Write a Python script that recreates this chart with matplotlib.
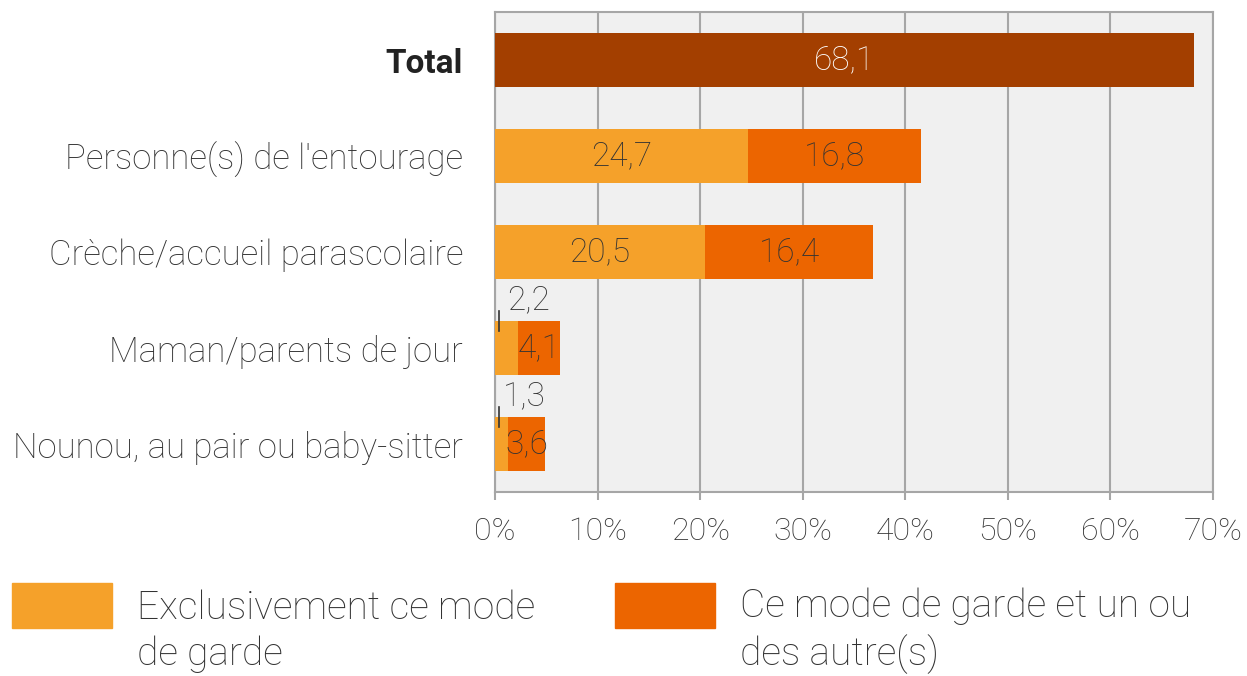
import matplotlib.pyplot as plt
from matplotlib.patches import Rectangle
from matplotlib.ticker import FuncFormatter

plt.rcParams['font.family'] = ['Roboto', 'DejaVu Sans']

categories = ['Total', "Personne(s) de l'entourage", 'Crèche/accueil parascolaire',
              'Maman/parents de jour', 'Nounou, au pair ou baby-sitter']
total = 68.1
exclusive = [None, 24.7, 20.5, 2.2, 1.3]
combined = [None, 16.8, 16.4, 4.1, 3.6]
legend_labels = ['Exclusivement ce mode\nde garde', 'Ce mode de garde et un ou\ndes autre(s)']

c_total = '#A33F00'
c_excl = '#F5A12A'
c_comb = '#EC6500'
txt = '#333333'
fs = 24

fig = plt.figure(figsize=(12.47, 6.76), dpi=100)
ax = fig.add_axes([495 / 1247, 1 - 492 / 676, (1213 - 495) / 1247, 480 / 676])
ax.set_facecolor('#F0F0F0')

h = 0.56
ax.barh(0, total, height=h, color=c_total, zorder=3)
ax.text(total / 2, 0, f'{total:.1f}'.replace('.', ','), ha='center', va='center',
        color='white', fontsize=fs, fontweight='light', zorder=4)

for i in range(1, len(categories)):
    e, c = exclusive[i], combined[i]
    ax.barh(i, e, height=h, color=c_excl, zorder=3)
    ax.barh(i, c, left=e, height=h, color=c_comb, zorder=3)
    if e >= 5:
        ax.text(e / 2, i, f'{e:.1f}'.replace('.', ','), ha='center', va='center',
                color=txt, fontsize=fs, fontweight='light', zorder=4)
    else:
        ax.text(e / 2 + 0.1, i - 0.5, f'{e:.1f}'.replace('.', ','), ha='left', va='center',
                color=txt, fontsize=fs, fontweight='light', zorder=4)
        ax.plot([0.4, 0.4], [i - 0.385, i - 0.18], color=txt, lw=1.2, zorder=5)
    ax.text(e + c / 2, i, f'{c:.1f}'.replace('.', ','), ha='center', va='center',
            color=txt, fontsize=fs, fontweight='light', zorder=4)

ax.set_xlim(0, 70)
ax.set_ylim(4.5, -0.5)
ax.set_xticks(range(0, 71, 10))
ax.xaxis.set_major_formatter(FuncFormatter(lambda v, p: f'{v:.0f}%'))
ax.set_yticks(range(len(categories)))
ax.set_yticklabels(categories)
ax.grid(axis='x', color='#A6A6A6', lw=1.5, zorder=1)
ax.tick_params(axis='y', length=0, pad=23, labelsize=25, labelcolor=txt)
ax.tick_params(axis='x', length=6, color='#A6A6A6', width=1.5, pad=12, labelsize=23, labelcolor=txt)
for lab in ax.get_yticklabels() + ax.get_xticklabels():
    lab.set_fontweight('light')
ax.get_yticklabels()[0].set_fontweight('bold')
ax.get_yticklabels()[0].set_fontsize(24)
ax.get_yticklabels()[0].set_color('#222222')
for s in ax.spines.values():
    s.set_color('#A6A6A6')
    s.set_linewidth(1.5)

# legend drawn by hand
for x0, col, lab in [(12, c_excl, legend_labels[0]), (615, c_comb, legend_labels[1])]:
    fig.patches.append(Rectangle((x0 / 1247, 1 - 628 / 676), 100 / 1247, 45 / 676,
                                 transform=fig.transFigure, color=col))
    fig.text((x0 + 125) / 1247, 1 - 631 / 676, lab, ha='left', va='center',
             fontsize=28, fontweight='light', color=txt, linespacing=1.29)

fig.savefig('out.png', dpi=100)
